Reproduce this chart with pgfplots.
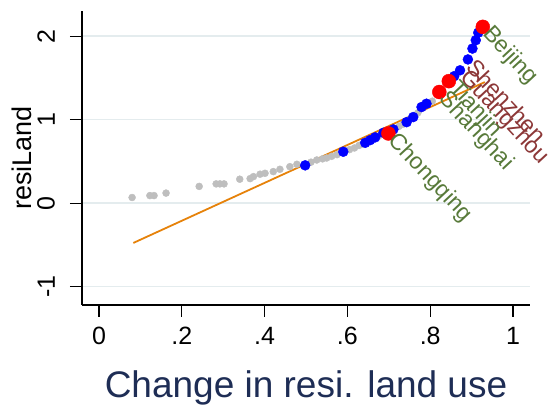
\documentclass[border=0pt]{standalone}
\usepackage{pgfplots}
\pgfplotsset{compat=1.18}
\usepackage{pgfplotstable}
\usepackage{fontspec}
\setmainfont{Liberation Sans}
\definecolor{gridc}{RGB}{228,236,238}
\definecolor{lineor}{RGB}{230,130,10}
\definecolor{lblgreen}{RGB}{88,122,58}
\definecolor{lblred}{RGB}{140,55,55}
\definecolor{titlenavy}{RGB}{30,45,85}
\definecolor{grayd}{RGB}{190,190,190}

\pgfplotstableread{
x y
0.080 0.067
0.123 0.090
0.133 0.090
0.162 0.120
0.242 0.200
0.283 0.230
0.292 0.230
0.302 0.230
0.340 0.286
0.365 0.293
0.373 0.317
0.389 0.346
0.401 0.357
0.421 0.377
0.437 0.405
0.461 0.436
0.478 0.465
0.512 0.490
0.526 0.516
0.540 0.530
0.550 0.540
0.562 0.560
0.575 0.580
0.605 0.640
0.617 0.660
0.628 0.690
0.636 0.705
0.675 0.800
0.700 0.860
0.725 0.920
0.735 0.945
0.750 1.000
0.770 1.080
0.805 1.220
}\graydata

\pgfplotstableread{
x y
0.498 0.452
0.590 0.615
0.643 0.722
0.655 0.754
0.667 0.787
0.687 0.842
0.711 0.882
0.743 0.969
0.759 1.030
0.779 1.150
0.791 1.190
0.858 1.520
0.902 1.850
0.910 1.950
0.916 2.040
}\bluedata

\pgfplotstableread{
x y label
0.872 1.590 Guangzhou
0.891 1.720 Shenzhen
}\bluelab

\pgfplotstableread{
x y label
0.699 0.834 Chongqing
0.822 1.330 Shanghai
0.845 1.460 Tianjin
0.927 2.110 Beijing
}\reddata

\pgfplotstableread{
x y
0.083 -0.477
0.932 1.449
}\fitline

\begin{document}
\begin{tikzpicture}
\begin{axis}[
  at={(82pt,106pt)}, anchor=south west,
  scale only axis, width=448pt, height=294pt,
  xmin=-0.041, xmax=1.041, ymin=-1.22, ymax=2.30,
  clip=false,
  axis x line*=bottom, axis y line*=left,
  axis line style={line width=1.2pt, black, -},
  xtick={0,0.2,0.4,0.6,0.8,1}, xticklabels={0,.2,.4,.6,.8,1},
  ytick={-1,0,1,2}, yticklabels={-1,0,1,2},
  tick align=outside, major tick length=12pt,
  tick style={line width=1.1pt, black},
  ymajorgrids, grid style={gridc, line width=1.2pt},
  xticklabel style={font=\fontsize{25}{25}\selectfont, anchor=base, inner sep=0pt, yshift=-28pt},
  yticklabel style={font=\fontsize{25}{25}\selectfont, rotate=90, anchor=south, inner sep=0pt, yshift=15pt},
  xlabel={Change in resi. land use},
  xlabel style={font=\fontsize{37}{37}\selectfont, text=titlenavy, at={(axis description cs:0.5,-0.313)}, anchor=base},
  ylabel={resiLand},
  ylabel style={font=\fontsize{27}{27}\selectfont, at={(axis description cs:-0.134,0.5)}, anchor=center},
]
\addplot[only marks, mark=*, mark size=3.5pt, grayd, mark options={draw=grayd, fill=grayd}] table[x=x, y=y] {\graydata};
\addplot[only marks, mark=*, mark size=5pt, blue, mark options={draw=blue, fill=blue}] table[x=x, y=y] {\bluedata};
\addplot[only marks, mark=*, mark size=5pt, blue, mark options={draw=blue, fill=blue},
  nodes near coords, point meta=explicit symbolic,
  nodes near coords style={anchor=west, rotate=-47, inner sep=5pt, text=lblred, font=\fontsize{23}{23}\selectfont}]
  table[x=x, y=y, meta=label] {\bluelab};
\addplot[lineor, line width=1.8pt] table[x=x, y=y] {\fitline};
\addplot[only marks, mark=*, mark size=7pt, red, mark options={draw=red, fill=red},
  nodes near coords, point meta=explicit symbolic,
  nodes near coords style={anchor=west, rotate=-47, inner sep=5pt, text=lblgreen, font=\fontsize{23}{23}\selectfont}]
  table[x=x, y=y, meta=label] {\reddata};
\end{axis}
\pgfresetboundingbox
\path[use as bounding box] (0,0) rectangle (553pt,411pt);
\end{tikzpicture}
\end{document}
